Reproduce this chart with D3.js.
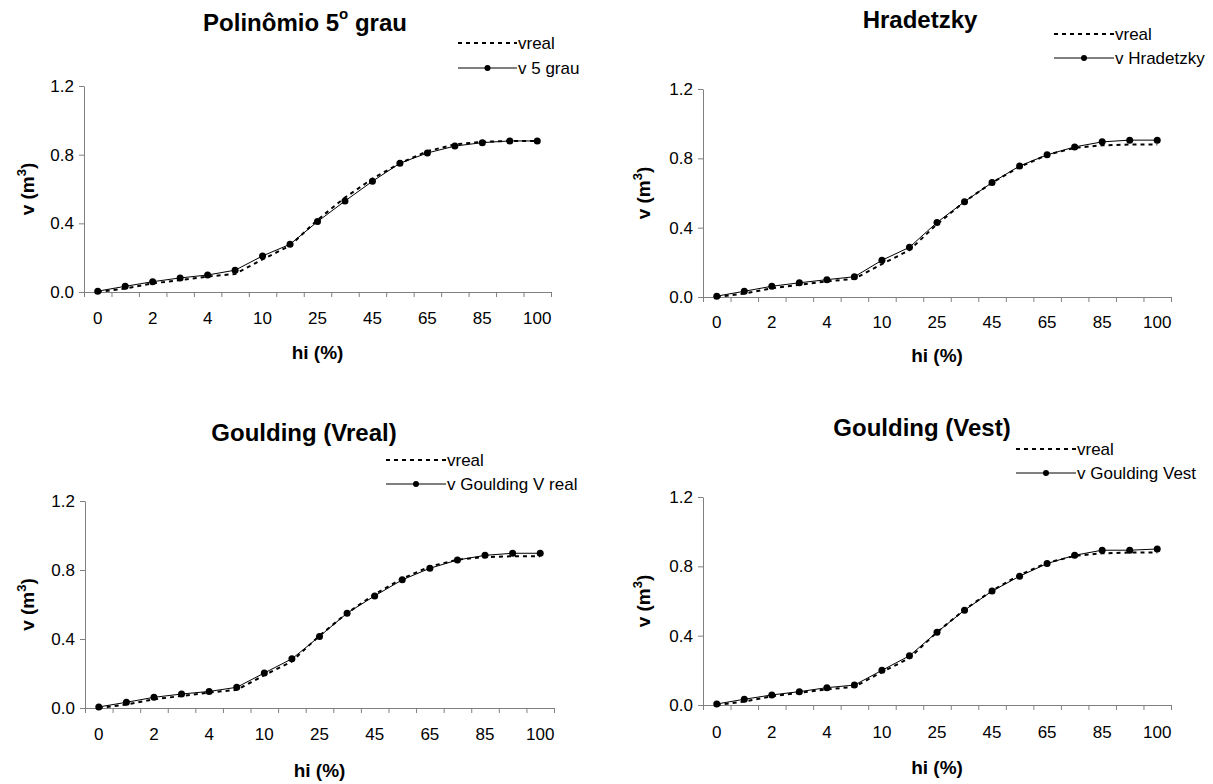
<!DOCTYPE html>
<html>
<head>
<meta charset="utf-8">
<script src="https://cdn.jsdelivr.net/npm/d3@7"></script>
<style>
  body { margin: 0; background: #fff; }
  svg { font-family: "Liberation Sans", Arial, sans-serif; }
</style>
</head>
<body>
<div id="chart"></div>
<script>
// categories (hi %) - only every other one is labelled
const hi = ["0", "1", "2", "3", "4", "5", "10", "15", "25", "35", "45", "55", "65", "75", "85", "95", "100"];
const yTicks = [0, 0.4, 0.8, 1.2];

// volumes (m3)
const vreal = [0, 0.02, 0.05, 0.07, 0.09, 0.105, 0.19, 0.27, 0.42, 0.55, 0.66, 0.75, 0.82, 0.86, 0.875, 0.88, 0.88];
const v5grau = [0.005, 0.033, 0.06, 0.082, 0.099, 0.127, 0.21, 0.278, 0.41, 0.53, 0.645, 0.75, 0.81, 0.85, 0.87, 0.88, 0.88];
const vHradetzky = [0.005, 0.033, 0.062, 0.082, 0.1, 0.117, 0.212, 0.287, 0.43, 0.55, 0.66, 0.756, 0.82, 0.866, 0.895, 0.905, 0.905];
const vGouldingVreal = [0.006, 0.033, 0.062, 0.081, 0.096, 0.12, 0.203, 0.285, 0.415, 0.55, 0.65, 0.743, 0.81, 0.858, 0.885, 0.897, 0.897];
const vGouldingVest = [0.006, 0.033, 0.058, 0.077, 0.1, 0.115, 0.2, 0.284, 0.42, 0.547, 0.657, 0.743, 0.816, 0.864, 0.893, 0.893, 0.9];

const titles = ["Polinômio 5", "Hradetzky", "Goulding (Vreal)", "Goulding (Vest)"];
const seriesNames = ["v 5 grau", "v Hradetzky", "v Goulding V real", "v Goulding Vest"];
const seriesValues = [v5grau, vHradetzky, vGouldingVreal, vGouldingVest];

// panel layout (pixels)
const panels = [
  { l: 84, r: 551, t: 86, b: 292, tx: 305, ty: 23, lg: [458, 517, 43, 68], xl: 318, xt: 352, yt: 27 },
  { l: 703, r: 1171, t: 89, b: 297, tx: 920, ty: 20, lg: [1054, 1114, 34, 58], xl: 322, xt: 355, yt: 643 },
  { l: 85, r: 554, t: 501, b: 708, tx: 304, ty: 433, lg: [386, 446, 460, 484], xl: 734, xt: 770, yt: 27 },
  { l: 703, r: 1171, t: 497, b: 705, tx: 922, ty: 428, lg: [1016, 1076, 449, 473], xl: 732, xt: 767, yt: 643 }
];

const svg = d3.select("#chart").append("svg")
  .attr("width", 1213)
  .attr("height", 784);

panels.forEach((p, i) => {
  const g = svg.append("g");
  const x = d3.scaleBand().domain(hi).range([p.l, p.r]);
  const xi = d3.scaleLinear().domain([0, hi.length]).range([p.l, p.r]);
  const y = d3.scaleLinear().domain([0, 1.2]).range([p.b, p.t]);
  const cx = d => x(d) + x.bandwidth() / 2;

  // y axis
  const ya = g.append("g")
    .attr("transform", "translate(" + p.l + ",0)")
    .call(d3.axisLeft(y).tickValues(yTicks).tickFormat(d3.format(".1f")).tickSize(5).tickSizeOuter(0));
  ya.select(".domain").attr("stroke", "#808080");
  ya.selectAll(".tick line").attr("stroke", "#808080");
  ya.selectAll("text").attr("font-size", 17).attr("fill", "#000").attr("font-family", "Liberation Sans, Arial").attr("dx", "-2");

  // x axis: ticks on band edges
  const xa = g.append("g")
    .attr("transform", "translate(0," + p.b + ")")
    .call(d3.axisBottom(xi).tickValues(d3.range(hi.length + 1)).tickSize(5).tickSizeOuter(0).tickFormat(""));
  xa.select(".domain").attr("stroke", "#808080");
  xa.selectAll(".tick line").attr("stroke", "#808080");

  g.selectAll(".xlab")
    .data(hi.filter((d, k) => k % 2 === 0))
    .enter().append("text")
    .attr("x", cx)
    .attr("y", p.xl)
    .attr("dy", "0.35em")
    .attr("text-anchor", "middle")
    .attr("font-size", 17)
    .text(d => d);

  // titles
  const tt = g.append("text")
    .attr("x", p.tx).attr("y", p.ty).attr("dy", "0.35em")
    .attr("text-anchor", "middle")
    .attr("font-size", 24).attr("font-weight", "bold")
    .text(titles[i]);
  if (i === 0) {
    tt.append("tspan").attr("font-size", 15).attr("dy", "-0.8em").text("o");
    tt.append("tspan").attr("dy", "0.5em").text(" grau");
  }

  g.append("text")
    .attr("x", (p.l + p.r) / 2).attr("y", p.xt).attr("dy", "0.35em")
    .attr("text-anchor", "middle")
    .attr("font-size", 19).attr("font-weight", "bold")
    .text("hi (%)");

  const yt = g.append("text")
    .attr("transform", "translate(" + p.yt + "," + (p.t + p.b) / 2 + ") rotate(-90)")
    .attr("dy", "0.35em")
    .attr("text-anchor", "middle")
    .attr("font-size", 19).attr("font-weight", "bold")
    .text("v (m");
  yt.append("tspan").attr("font-size", 13).attr("dy", "-0.6em").text("3");
  yt.append("tspan").attr("dy", "0.42em").text(")");

  // lines
  const line = d3.line().x((d, k) => cx(hi[k])).y(d => y(d));
  g.append("path")
    .attr("d", line(vreal))
    .attr("fill", "none")
    .attr("stroke", "#000")
    .attr("stroke-width", 2)
    .attr("stroke-dasharray", "4,4");

  g.append("path")
    .attr("d", line(seriesValues[i]))
    .attr("fill", "none")
    .attr("stroke", "#000")
    .attr("stroke-width", 1);

  g.selectAll(".dot")
    .data(seriesValues[i])
    .enter().append("circle")
    .attr("cx", (d, k) => cx(hi[k]))
    .attr("cy", d => y(d))
    .attr("r", 3.5)
    .attr("fill", "#000");

  // legend
  const [x0, x1, y0, y1] = p.lg;
  const lg = g.append("g");
  lg.append("rect")
    .attr("x", x0 - 3).attr("y", y0 - 9)
    .attr("width", 1213 - x0).attr("height", y1 - y0 + 18)
    .attr("fill", "#fff");
  lg.append("line")
    .attr("x1", x0).attr("x2", x1).attr("y1", y0).attr("y2", y0)
    .attr("stroke", "#000").attr("stroke-width", 2).attr("stroke-dasharray", "4,4");
  lg.append("text")
    .attr("x", x1 + 1).attr("y", y0).attr("dy", "0.35em")
    .attr("font-size", 17).text("vreal");
  lg.append("line")
    .attr("x1", x0).attr("x2", x1).attr("y1", y1).attr("y2", y1)
    .attr("stroke", "#000").attr("stroke-width", 1);
  lg.append("circle")
    .attr("cx", (x0 + x1) / 2).attr("cy", y1).attr("r", 3).attr("fill", "#000");
  lg.append("text")
    .attr("x", x1 + 1).attr("y", y1).attr("dy", "0.35em")
    .attr("font-size", 17).text(seriesNames[i]);
});
</script>
</body>
</html>
